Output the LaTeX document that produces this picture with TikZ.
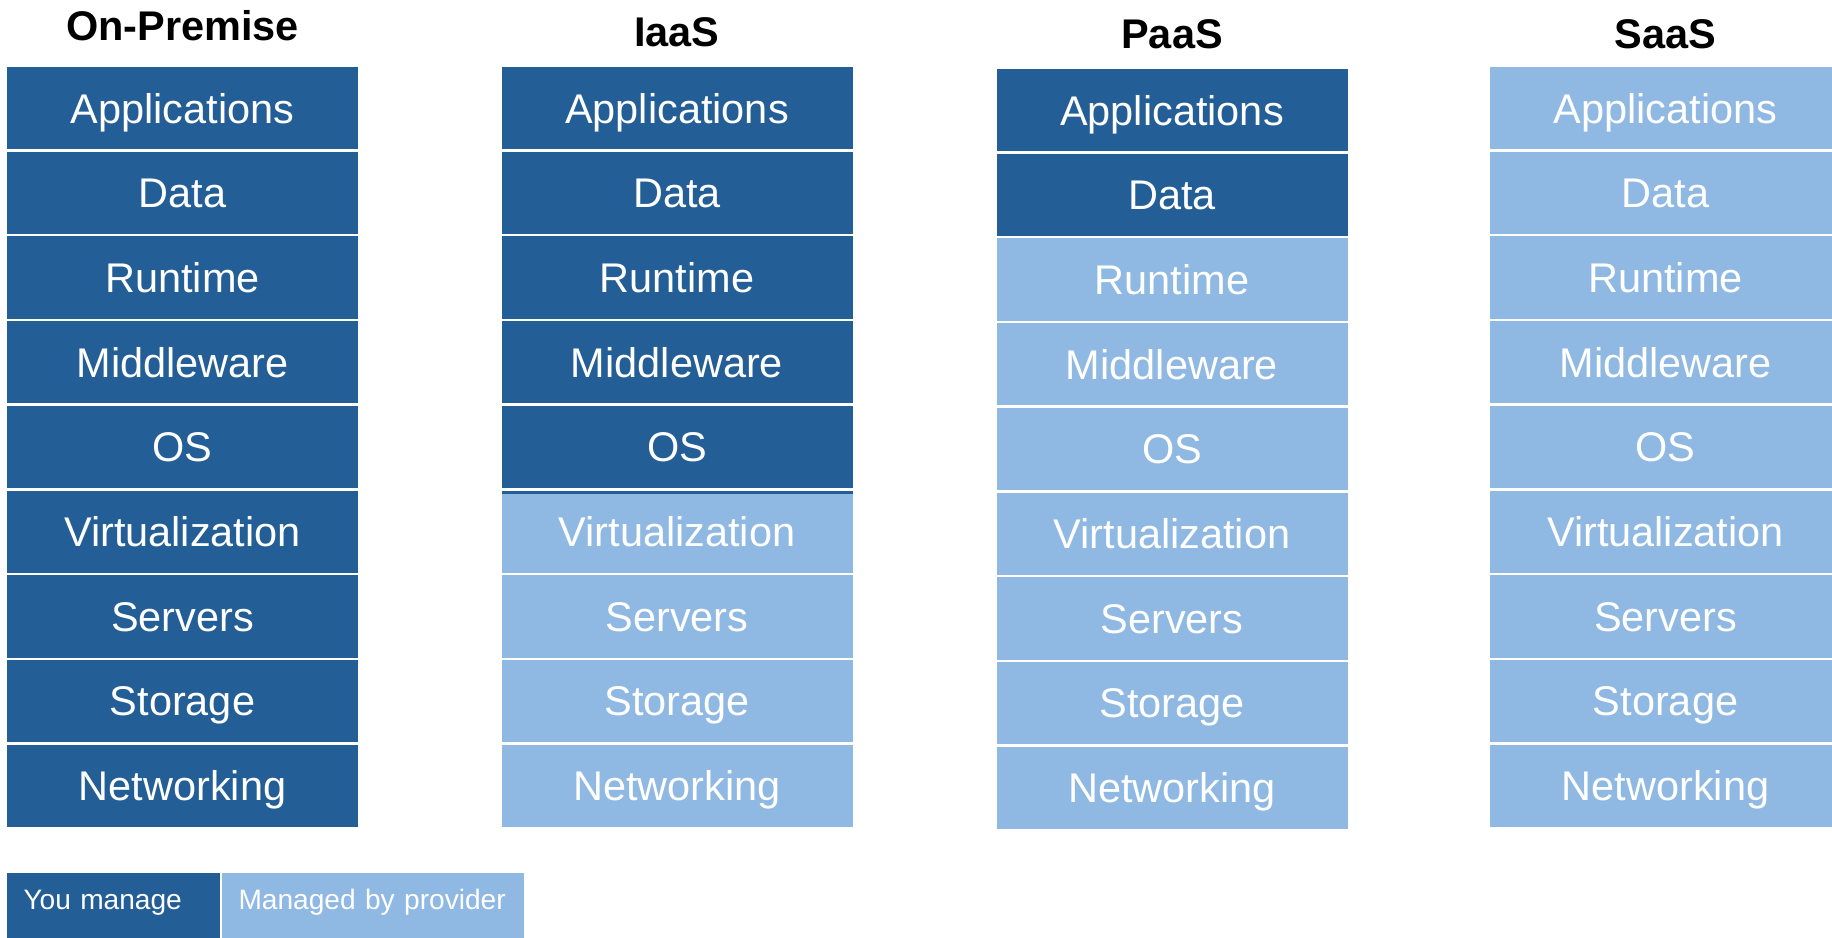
\documentclass[tikz,border=0pt]{standalone}
\usepackage{fontspec}
\setmainfont{Liberation Sans}
\usetikzlibrary{positioning}

\definecolor{youblue}{RGB}{35,94,150}
\definecolor{provblue}{RGB}{143,185,227}

\tikzstyle{layer} = [rectangle, minimum width=3.51cm, minimum height=0.823cm, inner sep=0pt, outer sep=0pt, text height=0.297cm, text depth=0cm, text=white, font=\fontsize{11.8}{14}\selectfont]
\tikzstyle{you} = [layer, fill=youblue]
\tikzstyle{prov} = [layer, fill=provblue]
\tikzstyle{head} = [anchor=base, font=\fontsize{11.8}{14}\selectfont\bfseries]
\tikzstyle{key} = [rectangle, anchor=north west, inner xsep=0.165cm, inner ysep=0pt, outer sep=0pt, text height=0.36cm, text depth=0.35cm, align=left, text=white, font=\fontsize{8}{10}\selectfont]

\begin{document}
\begin{tikzpicture}[node distance=0.024cm]
		\useasboundingbox (0,0) rectangle (18.32,-9.37);
		% Headings
		\node (onprem) [head] at (1.825,-0.40) {On-Premise};
		\node (iaas) [head] at (6.77,-0.46) {IaaS};
		\node (paas) [head] at (11.72,-0.48) {PaaS};
		\node (saas) [head] at (16.655,-0.48) {SaaS};
		% On-Premise
		\node (opapp) [you, anchor=north] at (1.825,-0.67) {Applications};
		\node (opdata) [you, below=of opapp] {Data};
		\node (oprun) [you, below=of opdata] {Runtime};
		\node (opmid) [you, below=of oprun] {Middleware};
		\node (opos) [you, below=of opmid] {OS};
		\node (opvirt) [you, below=of opos] {Virtualization};
		\node (opserv) [you, below=of opvirt] {Servers};
		\node (opstor) [you, below=of opserv] {Storage};
		\node (opnet) [you, below=of opstor] {Networking};
		% IaaS
		\node (iaasapp) [you, anchor=north] at (6.77,-0.67) {Applications};
		\node (iaasdata) [you, below=of iaasapp] {Data};
		\node (iaasrun) [you, below=of iaasdata] {Runtime};
		\node (iaasmid) [you, below=of iaasrun] {Middleware};
		\node (iaasos) [you, below=of iaasmid] {OS};
		\node (iaasvirt) [prov, below=of iaasos] {Virtualization};
		\node (iaasserv) [prov, below=of iaasvirt] {Servers};
		\node (iaasstor) [prov, below=of iaasserv] {Storage};
		\node (iaasnet) [prov, below=of iaasstor] {Networking};
		\fill [youblue] (iaasvirt.north west) rectangle ([yshift=-0.03cm]iaasvirt.north east);
		% PaaS
		\node (paasapp) [you, anchor=north] at (11.72,-0.69) {Applications};
		\node (paasdata) [you, below=of paasapp] {Data};
		\node (paasrun) [prov, below=of paasdata] {Runtime};
		\node (paasmid) [prov, below=of paasrun] {Middleware};
		\node (paasos) [prov, below=of paasmid] {OS};
		\node (paasvirt) [prov, below=of paasos] {Virtualization};
		\node (paasserv) [prov, below=of paasvirt] {Servers};
		\node (paasstor) [prov, below=of paasserv] {Storage};
		\node (paasnet) [prov, below=of paasstor] {Networking};
		% SaaS
		\node (saasapp) [prov, anchor=north] at (16.655,-0.67) {Applications};
		\node (saasdata) [prov, below=of saasapp] {Data};
		\node (saasrun) [prov, below=of saasdata] {Runtime};
		\node (saasmid) [prov, below=of saasrun] {Middleware};
		\node (saasos) [prov, below=of saasmid] {OS};
		\node (saasvirt) [prov, below=of saasos] {Virtualization};
		\node (saasserv) [prov, below=of saasvirt] {Servers};
		\node (saasstor) [prov, below=of saasserv] {Storage};
		\node (saasnet) [prov, below=of saasstor] {Networking};
		% Legend
		\node (keyyou) [key, fill=youblue, text width=1.80cm] at (0.07,-8.73) {You manage};
		\node (keyprov) [key, fill=provblue, text width=2.69cm] at (2.22,-8.73) {Managed by provider};
	\end{tikzpicture}
\end{document}
